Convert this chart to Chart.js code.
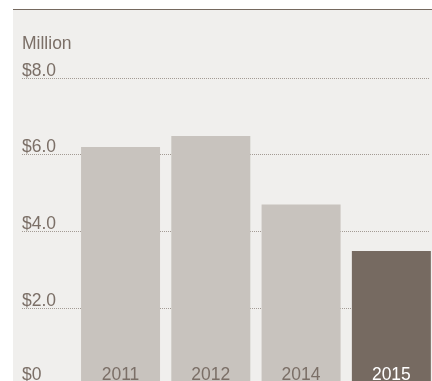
<!DOCTYPE html>
<html>
<head>
<meta charset="utf-8">
<script src="https://cdn.jsdelivr.net/npm/chart.js@4/dist/chart.umd.min.js"></script>
<style>
  html, body { margin: 0; padding: 0; width: 432px; height: 381px; overflow: hidden; background: #ffffff; }
  #panel { position: absolute; left: 13px; top: 9px; width: 430px; height: 380px; background: #f0efed; border-top: 1px solid #75695f; }
  #c { position: absolute; left: 0; top: 0; }
</style>
</head>
<body>
<div id="panel"></div>
<canvas id="c" width="440" height="390"></canvas>
<script>
const categories = ['2011', '2012', '2014', '2015'];
const values = [6.19, 6.48, 4.69, 3.48];
const tickValues = [0, 2, 4, 6, 8];
const tickLabels = ['$0', '$2.0', '$4.0', '$6.0', '$8.0'];
const unitLabel = 'Million';
const barColors = ['#c8c3be', '#c8c3be', '#c8c3be', '#766a61'];
const labelColors = ['#7b6f67', '#7b6f67', '#7b6f67', '#ffffff'];

const FONT = '17.5px "Liberation Sans", Arial, Helvetica, sans-serif';
const TEXT = '#7b6f67';

const customDraw = {
  id: 'customDraw',
  beforeDatasetsDraw(chart) {
    const ctx = chart.ctx;
    const y = chart.scales.y;
    ctx.save();
    ctx.font = FONT;
    ctx.textAlign = 'left';
    ctx.textBaseline = 'alphabetic';
    ctx.fillStyle = TEXT;
    ctx.fillText(unitLabel, 22, 49);
    tickValues.forEach((v, i) => {
      const py = Math.round(y.getPixelForValue(v));
      if (v !== 0) {
        ctx.strokeStyle = '#a39b94';
        ctx.lineWidth = 1;
        ctx.setLineDash([1, 1]);
        ctx.beginPath();
        ctx.moveTo(22, py + 0.5);
        ctx.lineTo(430, py + 0.5);
        ctx.stroke();
      }
      ctx.fillStyle = TEXT;
      ctx.fillText(tickLabels[i], 22, Math.min(py - 2, 380));
    });
    ctx.restore();
  },
  afterDatasetsDraw(chart) {
    const ctx = chart.ctx;
    const x = chart.scales.x;
    ctx.save();
    ctx.font = FONT;
    ctx.textAlign = 'center';
    ctx.textBaseline = 'alphabetic';
    categories.forEach((c, i) => {
      ctx.fillStyle = labelColors[i];
      ctx.fillText(c, x.getPixelForValue(i), 380);
    });
    ctx.restore();
  }
};

new Chart(document.getElementById('c'), {
  type: 'bar',
  data: {
    labels: categories,
    datasets: [{
      data: values,
      backgroundColor: barColors,
      borderWidth: 0,
      barPercentage: 0.875,
      categoryPercentage: 1.0
    }]
  },
  options: {
    responsive: false,
    animation: false,
    devicePixelRatio: 1,
    layout: { padding: { left: 75.4, right: 3.5, top: 77.6, bottom: 5.5 } },
    plugins: { legend: { display: false }, tooltip: { enabled: false } },
    scales: {
      x: { display: false },
      y: { display: false, min: 0, max: 8 }
    }
  },
  plugins: [customDraw]
});
</script>
</body>
</html>
